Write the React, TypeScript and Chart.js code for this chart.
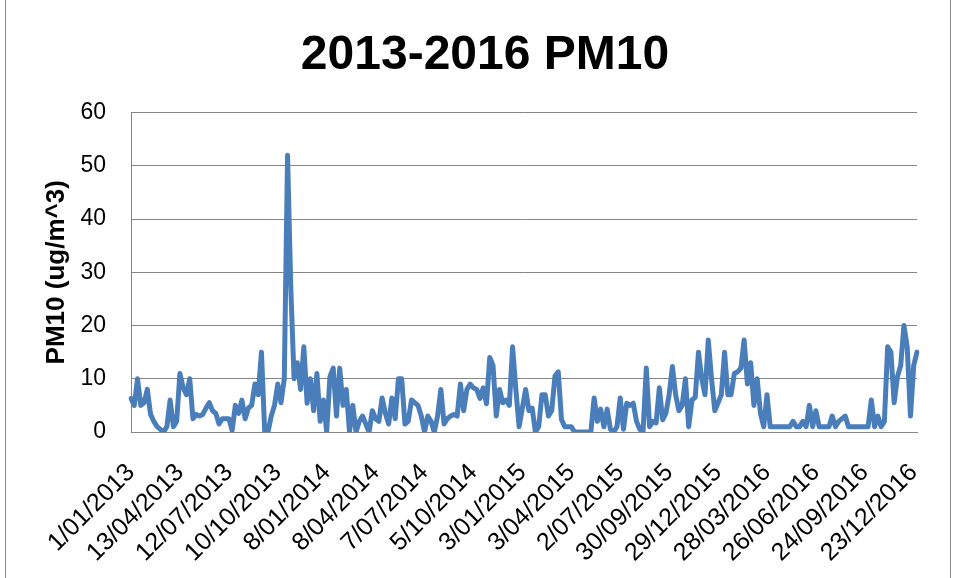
import React, { useEffect, useRef } from "react";
import { Chart, registerables } from "chart.js";

Chart.register(...registerables);

const chartTitle = "2013-2016 PM10";
const yAxisTitle = "PM10 (ug/m^3)";

// Date labels shown on the category axis (every 15th sample)
const tickLabels = [
  "1/01/2013", "13/04/2013", "12/07/2013", "10/10/2013", "8/01/2014",
  "8/04/2014", "7/07/2014", "5/10/2014", "3/01/2015", "3/04/2015",
  "2/07/2015", "30/09/2015", "29/12/2015", "28/03/2016", "26/06/2016",
  "24/09/2016", "23/12/2016",
];
const labelEvery = 15;

// PM10 samples (ug/m^3)
const pm10 = [
  6.3, 5, 10, 5, 5.5, 8, 3.3, 2, 1, 0.5,
  0, 1, 6, 1, 2, 11, 8.3, 7, 10, 2.5,
  3.3, 3, 3.3, 4.5, 5.5, 4, 3.5, 1.5, 2.5, 2.5,
  2.5, 0.3, 5, 3.5, 6, 2.5, 4.5, 5, 9, 7,
  15, 0, 0, 3, 5, 9, 5.5, 10, 52, 27,
  10, 13, 8, 16, 5.4, 10, 4, 11, 2, 6,
  0, 10.4, 12, 3, 12, 5, 8, 0, 5, 0,
  2, 3, 1.5, 0, 4, 2.5, 2, 6.4, 3.5, 1.5,
  6.4, 2.5, 10, 10, 1.5, 2, 6, 5.5, 5, 3,
  0, 3, 2, 0, 3, 8, 1.5, 2.5, 3, 3.3,
  3, 9, 4, 8, 9, 8.3, 8, 6.3, 8.3, 5.3,
  14, 12.5, 3, 8, 5.5, 6, 5, 16, 8, 1,
  4.5, 8, 4, 4.5, 0, 1, 7, 7, 3, 4,
  10.5, 11.3, 2.3, 1, 1, 1, 0, 0, 0, 0,
  0, 0, 6.4, 2, 4.3, 1, 4.3, 0.5, 0, 1,
  6.4, 0.5, 5.4, 5, 5.4, 2, 0.5, 0, 12, 1,
  2, 1.7, 8.3, 2.3, 3.5, 7, 12.3, 7, 4, 5,
  10, 1, 6, 6.5, 15, 10, 7, 17.3, 10, 4,
  5.5, 7, 15, 7, 7, 11, 11.3, 12, 17.3, 9,
  13, 5, 10, 3.5, 1, 7, 1, 1, 1, 1,
  1, 1, 1, 2, 1, 1, 2, 1, 5, 1,
  4, 1, 1, 1, 1, 3, 1, 2, 2.5, 3,
  1, 1, 1, 1, 1, 1, 1, 6, 1, 3,
  1, 2, 16, 15, 5.5, 10.4, 12.5, 20, 16, 3,
  12.5, 15,
];

const yMin = 0;
const yMax = 60;
const yStep = 10;

const categories = pm10.map((_, i) =>
  i % labelEvery === 0 && tickLabels[i / labelEvery] !== undefined
    ? tickLabels[i / labelEvery]
    : ""
);

const FONT = "'Liberation Sans', Arial, Helvetica, sans-serif";
const W = 955;
const H = 578;

export default function App() {
  const ref = useRef<HTMLCanvasElement | null>(null);

  useEffect(() => {
    if (!ref.current) return;
    const chart = new Chart(ref.current, {
      type: "line",
      data: {
        labels: categories,
        datasets: [
          {
            data: pm10,
            yAxisID: "y",
            borderColor: "#4a7ebb",
            backgroundColor: "#4a7ebb",
            borderWidth: 5,
            pointRadius: 0,
            tension: 0,
            borderJoinStyle: "round",
            borderCapStyle: "round",
            fill: false,
          },
        ],
      },
      options: {
        animation: false,
        responsive: false,
        maintainAspectRatio: false,
        layout: { padding: { left: 15, right: 0, top: 0, bottom: 0 } },
        plugins: {
          legend: { display: false },
          tooltip: { enabled: false },
          title: {
            display: true,
            text: chartTitle,
            color: "#000",
            font: { family: FONT, size: 48, weight: "bold" },
            padding: { top: 27, bottom: 28 },
          },
        },
        scales: {
          x: {
            type: "category",
            offset: false,
            grid: { display: false, drawTicks: false },
            border: { display: true, color: "#868686", width: 1 },
            ticks: {
              autoSkip: false,
              maxRotation: 45,
              minRotation: 45,
              color: "#000",
              font: { family: FONT, size: 25 },
              padding: 26,
            },
            afterFit: (s: any) => {
              s.height = H - 432;
              s.paddingRight = 0;
              s.paddingLeft = 0;
            },
          },
          y: {
            position: "left",
            min: yMin,
            max: yMax,
            ticks: {
              stepSize: yStep,
              color: "#000",
              font: { family: FONT, size: 23 },
              padding: 25,
            },
            grid: { color: "#868686", lineWidth: 1, drawTicks: false },
            border: { display: true, color: "#868686", width: 1 },
            title: {
              display: true,
              text: yAxisTitle,
              color: "#000",
              font: { family: FONT, size: 26, weight: "bold" },
              padding: { top: 26, bottom: 0 },
            },
            afterFit: (s: any) => {
              s.width = 116;
            },
          },
          yRight: {
            position: "right",
            display: true,
            min: yMin,
            max: yMax,
            grid: { display: false, drawTicks: false },
            border: { display: false },
            ticks: { display: false },
            afterFit: (s: any) => {
              s.width = 38;
            },
          },
        },
      },
    });
    return () => chart.destroy();
  }, []);

  return (
    <div
      style={{
        position: "fixed",
        left: 0,
        top: 0,
        width: W,
        height: H,
        background: "#fff",
        overflow: "hidden",
      }}
    >
      <canvas ref={ref} width={W} height={H} style={{ width: W, height: H, display: "block" }} />
      <div
        style={{
          position: "absolute",
          left: 5,
          top: -2,
          width: 944,
          height: H + 4,
          borderLeft: "1px solid #8c8c8c",
          borderRight: "1px solid #8c8c8c",
          pointerEvents: "none",
        }}
      />
    </div>
  );
}
